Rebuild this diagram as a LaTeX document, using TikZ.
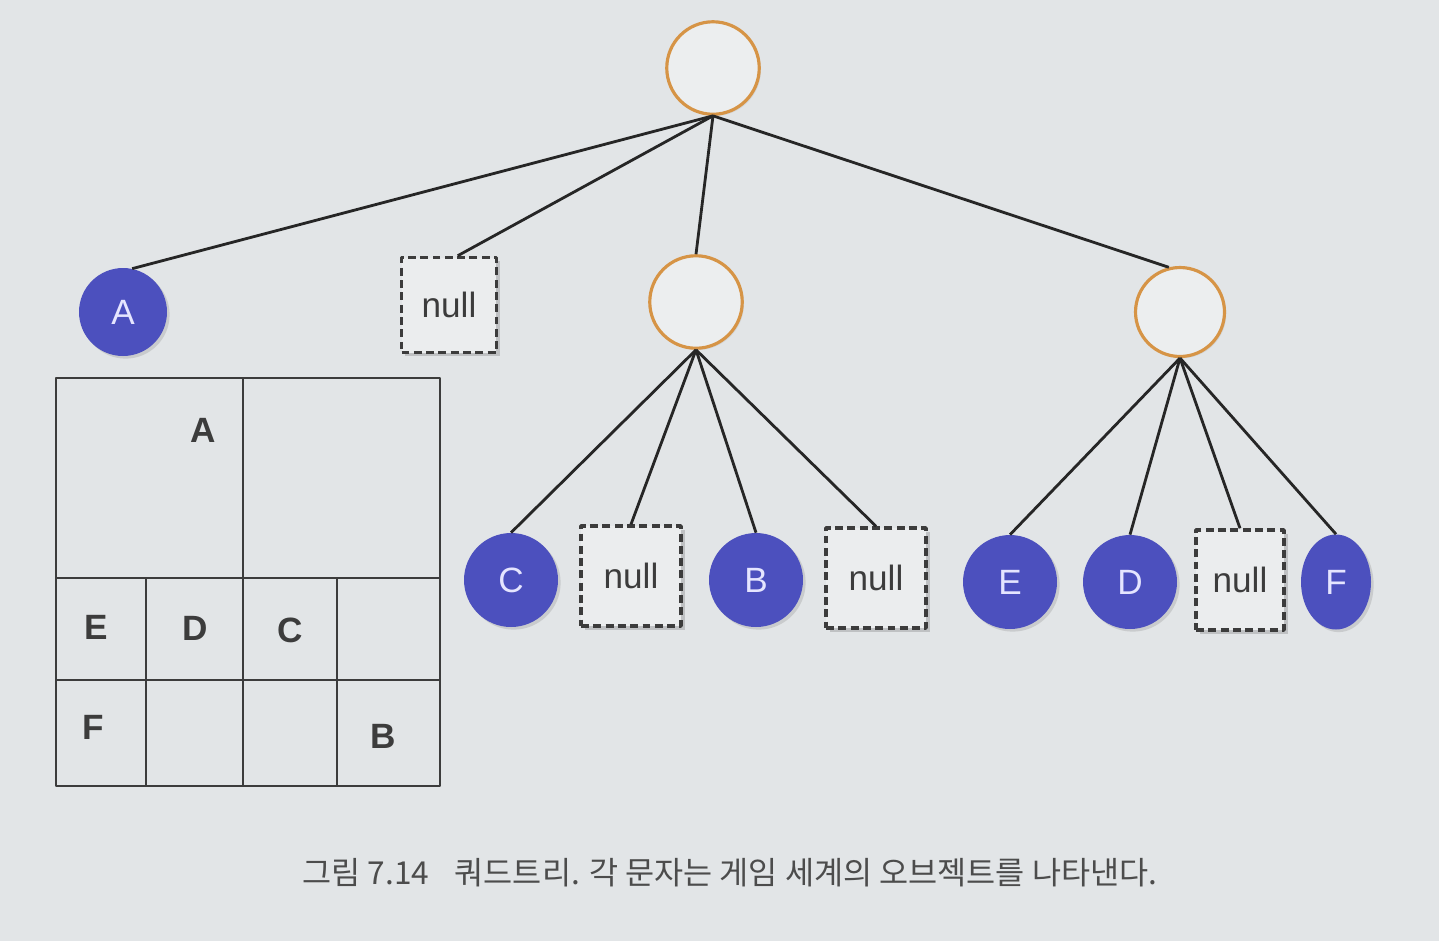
\documentclass[tikz,border=0pt]{standalone}
\usepackage{fontspec}
\setmainfont{Liberation Sans}
\newfontfamily\kofont{Noto Sans CJK KR}
\usetikzlibrary{shadows,shapes.geometric}
\definecolor{bgcol}{RGB}{226,229,231}
\definecolor{qblue}{RGB}{76,80,190}
\definecolor{qorange}{RGB}{214,148,70}
\definecolor{inkgray}{RGB}{60,60,60}

\begin{document}
\begin{tikzpicture}[x=0.02cm, y=-0.02cm, line join=round,
  link/.style={line width=1.6pt, black!85},
  inner/.style={circle, draw=qorange, line width=1.8pt, fill=bgcol!65!white, minimum size=1.85cm,
    drop shadow={shadow xshift=1pt, shadow yshift=-1pt, opacity=0.15}},
  obj/.style={circle, fill=qblue, text=white!90!blue, inner sep=0pt, minimum size=1.88cm,
    font=\fontsize{20}{24}\selectfont, drop shadow={shadow xshift=1.5pt, shadow yshift=-1.5pt, opacity=0.25}},
  nullbox/.style={rectangle, draw=inkgray, line width=2pt, dash pattern=on 4.5pt off 2.5pt,
    fill=bgcol!70!white, minimum width=2cm, minimum height=2cm, text=inkgray,
    font=\fontsize{20}{24}\selectfont, drop shadow={shadow xshift=2pt, shadow yshift=-2pt, opacity=0.35}},
  cell/.style={line width=1.6pt, inkgray},
  gridlabel/.style={font=\bfseries\fontsize{20}{24}\selectfont, text=inkgray}]
\fill[bgcol] (0,0) rectangle (1439,941);
\useasboundingbox (0,0) rectangle (1439,941);

% tree
\node[inner] (root) at (713,68)  {};
\node[obj, minimum size=1.76cm] (A) at (123,312) {A};
\node[nullbox, minimum size=1.9cm] (n1) at (449,305) {null};
\node[inner] (m1) at (696,302) {};
\node[inner, minimum size=1.78cm] (m2) at (1180,312) {};

\node[obj]     (C)  at (511,580)  {C};
\node[nullbox] (n2) at (631,576)  {null};
\node[obj]     (B)  at (756,580)  {B};
\node[nullbox] (n3) at (876,578)  {null};
\node[obj]     (E)  at (1010,582) {E};
\node[obj]     (D)  at (1130,582) {D};
\node[nullbox, minimum width=1.76cm] (n4) at (1240,580) {null};
\node[obj, ellipse, minimum width=1.4cm, minimum height=1.9cm] (F) at (1336,582) {F};

\draw[link] (root.south) -- (A.78);
\draw[link] (root.south) -- (n1.80);
\draw[link] (root.south) -- (m1.north);
\draw[link] (root.south) -- (m2.104);
\foreach \k in {C,n2,B,n3} \draw[link] (m1.south) -- (\k.north);
\foreach \k in {E,D,n4,F} \draw[link] (m2.south) -- (\k.north);

% space partition
\draw[cell] (56,378) rectangle (440,786);
\draw[cell] (56,578) -- (440,578);
\draw[cell] (56,680) -- (440,680);
\draw[cell] (243,378) -- (243,786);
\draw[cell] (146,578) -- (146,786);
\draw[cell] (337,578) -- (337,786);
\node[gridlabel] (gA) at (203,430) {A};
\node[gridlabel] (gE) at (96,627)  {E};
\node[gridlabel] (gD) at (195,628) {D};
\node[gridlabel] (gC) at (290,630) {C};
\node[gridlabel] (gF) at (93,727)  {F};
\node[gridlabel] (gB) at (383,736) {B};

\node[text=black!70, font=\kofont\fontsize{18}{22}\selectfont] (cap) at (730,873)
  {그림 7.14\hspace{0.8em}쿼드트리. 각 문자는 게임 세계의 오브젝트를 나타낸다.};
\end{tikzpicture}
\end{document}
